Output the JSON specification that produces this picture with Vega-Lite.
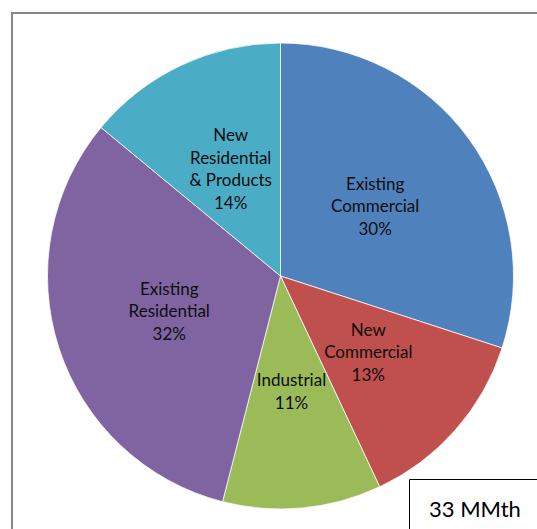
{
  "$schema": "https://vega.github.io/schema/vega-lite/v6.json",
  "width": 537,
  "height": 526,
  "autosize": {"type": "none"},
  "padding": {"left": 12, "top": 13, "right": -12, "bottom": -10},
  "background": "white",
  "view": {"stroke": "#878787", "strokeWidth": 2, "fill": null},
  "layer": [
    {
      "data": {
        "values": [
          {"sector": "Existing Commercial", "lines": "Existing\nCommercial", "share": 30, "rank": 1},
          {"sector": "New Commercial", "lines": "New\nCommercial", "share": 13, "rank": 2},
          {"sector": "Industrial", "lines": "Industrial", "share": 11, "rank": 3},
          {"sector": "Existing Residential", "lines": "Existing\nResidential", "share": 32, "rank": 4},
          {"sector": "New Residential & Products", "lines": "New\nResidential\n& Products", "share": 14, "rank": 5}
        ]
      },
      "transform": [
        {"calculate": "datum.lines + '\\n' + datum.share + '%'", "as": "label"}
      ],
      "layer": [
        {
          "mark": {"type": "arc", "outerRadius": 233, "stroke": "#ffffff", "strokeWidth": 0.75},
          "encoding": {
            "theta": {"field": "share", "type": "quantitative", "stack": true},
            "order": {"field": "rank", "type": "quantitative"},
            "color": {
              "field": "sector",
              "type": "nominal",
              "scale": {
                "domain": ["Existing Commercial", "New Commercial", "Industrial", "Existing Residential", "New Residential & Products"],
                "range": ["#4F81BD", "#C0504D", "#9BBB59", "#8064A2", "#4BACC6"]
              },
              "legend": null
            }
          }
        },
        {
          "mark": {
            "type": "text",
            "radius": 117,
            "font": "Lato",
            "fontSize": 17,
            "lineHeight": 22.5,
            "lineBreak": "\n",
            "align": "center",
            "baseline": "middle",
            "dy": {"expr": "-(length(split(datum.label, '\\n')) - 1) * 11.25"},
            "fill": "#0d0d0d"
          },
          "encoding": {
            "theta": {"field": "share", "type": "quantitative", "stack": true},
            "order": {"field": "rank", "type": "quantitative"},
            "text": {"field": "label", "type": "nominal"}
          }
        }
      ]
    },
    {
      "data": {"values": [{"total": "33 MMth"}]},
      "mark": {"type": "point", "opacity": 0},
      "encoding": {
        "shape": {
          "field": "total",
          "type": "nominal",
          "legend": {
            "title": null,
            "orient": "none",
            "legendX": 397,
            "legendY": 466,
            "padding": 20,
            "strokeColor": "#000000",
            "labelFont": "Lato",
            "labelFontSize": 22,
            "labelColor": "#000000",
            "labelOffset": -22,
            "labelBaseline": "middle",
            "symbolSize": 0,
            "symbolOpacity": 0,
            "symbolStrokeWidth": 0,
            "encoding": {
              "legend": {"update": {"strokeWidth": {"value": 2}}},
              "labels": {"update": {"dy": {"value": -3}}}
            }
          }
        }
      }
    }
  ]
}
